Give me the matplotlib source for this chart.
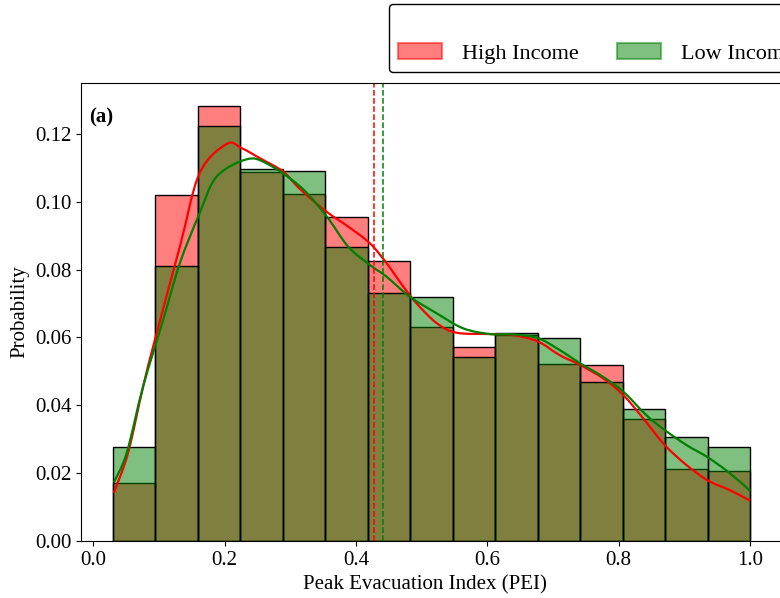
#!/usr/bin/env python3

import numpy as np
import matplotlib
matplotlib.use('Agg')
import matplotlib.pyplot as plt
from matplotlib.patches import Patch, PathPatch
from matplotlib.path import Path

# histogram bins (15 equal bins between 0.03 and 1.0)
bin_lo = 0.03
bin_hi = 1.0
n_bins = 15

high_prob = [0.0171, 0.1020, 0.1283, 0.1089, 0.1022, 0.0956, 0.0826, 0.0630,
             0.0573, 0.0608, 0.0522, 0.0518, 0.0360, 0.0211, 0.0206]
low_prob = [0.0277, 0.0810, 0.1222, 0.1096, 0.1092, 0.0866, 0.0730, 0.0718,
            0.0543, 0.0612, 0.0599, 0.0468, 0.0388, 0.0306, 0.0276]

# density curves
high_kde_x = [0.0315, 0.053, 0.076, 0.094, 0.132, 0.162, 0.203, 0.226,
              0.254, 0.289, 0.315, 0.355, 0.388, 0.421, 0.4466, 0.472,
              0.492, 0.523, 0.553, 0.604, 0.639, 0.677, 0.710, 0.741, 0.776,
              0.807, 0.837, 0.870, 0.903, 0.936, 0.969, 1.0]
high_kde_y = [0.0142, 0.0259, 0.0455, 0.0593, 0.0868, 0.1084, 0.1170,
              0.1158, 0.1128, 0.1089, 0.1037, 0.0971, 0.0927, 0.0878,
              0.0819, 0.0750, 0.0701, 0.0642, 0.0614, 0.0610, 0.0607, 0.0588,
              0.0548, 0.0519, 0.0480, 0.0430, 0.0362, 0.0283, 0.0224, 0.0178,
              0.0150, 0.0119]
low_kde_x = [0.0315, 0.051, 0.076, 0.1066, 0.132, 0.162, 0.188, 0.2335, 0.264,
             0.315, 0.355, 0.388, 0.421, 0.4466, 0.482, 0.523,
             0.563, 0.604, 0.639, 0.677, 0.710, 0.741, 0.776, 0.807, 0.842,
             0.870, 0.903, 0.936, 0.969, 1.0]
low_kde_y = [0.0173, 0.0259, 0.0455, 0.0652, 0.0819, 0.0966, 0.1074, 0.1125,
             0.1113, 0.1045, 0.0958, 0.0868, 0.0814, 0.0779,
             0.0720, 0.0671, 0.0627, 0.0610, 0.0609, 0.0598, 0.0563, 0.0524,
             0.0484, 0.0440, 0.0371, 0.0327, 0.0283, 0.0246, 0.0200, 0.0148]

high_mean = 0.4277
low_mean = 0.4405


def smooth_path(xs, ys):
    # catmull-rom through the read points, drawn as cubic bezier segments
    p = np.column_stack([xs, ys])
    verts = [p[0]]
    codes = [Path.MOVETO]
    for i in range(len(p) - 1):
        p0 = p[i - 1] if i > 0 else p[i]
        p1 = p[i]
        p2 = p[i + 1]
        p3 = p[i + 2] if i + 2 < len(p) else p[i + 1]
        c1 = p1 + (p2 - p0) / 6.0
        c2 = p2 - (p3 - p1) / 6.0
        verts += [c1, c2, p2]
        codes += [Path.CURVE4] * 3
    return Path(verts, codes)


plt.rcParams['font.family'] = ['Liberation Serif', 'DejaVu Serif']
plt.rcParams['font.size'] = 15

fig = plt.figure(figsize=(7.8, 5.98), dpi=100)
ax = fig.add_axes([81 / 780, 57 / 598, 701 / 780, 458 / 598])

edges = np.linspace(bin_lo, bin_hi, n_bins + 1)
width = edges[1] - edges[0]
ax.bar(edges[:-1], high_prob, width=width, align='edge',
       facecolor=(1, 0, 0, 0.5), edgecolor='black', linewidth=1.0)
ax.bar(edges[:-1], low_prob, width=width, align='edge',
       facecolor=(0, 0.5, 0, 0.5), edgecolor='black', linewidth=1.0)

ax.add_patch(PathPatch(smooth_path(high_kde_x, high_kde_y), facecolor='none',
                       edgecolor='red', lw=1.6))
ax.add_patch(PathPatch(smooth_path(low_kde_x, low_kde_y), facecolor='none',
                       edgecolor='green', lw=1.6))

ax.axvline(high_mean, color='red', linestyle='--', lw=1.1)
ax.axvline(low_mean, color='green', linestyle='--', lw=1.1)

ax.set_xlim(-0.0185, 1.0485)
ax.set_ylim(0, 0.135)
ax.set_xticks([0.0, 0.2, 0.4, 0.6, 0.8, 1.0])
yt = [0.0, 0.02, 0.04, 0.06, 0.08, 0.10, 0.12]
ax.set_yticks(yt)
ax.set_yticklabels(['%.2f' % v for v in yt])
ax.set_xlabel('Peak Evacuation Index (PEI)')
ax.xaxis.set_label_coords(0.49, -0.075)
ax.set_ylabel('Probability')
ax.text(0.012, 0.925, '(a)', transform=ax.transAxes, fontweight='bold',
        fontsize=15, va='center')

handles = [Patch(facecolor=(1, 0, 0, 0.5), edgecolor=(1, 0, 0, 0.5), lw=1.5),
           Patch(facecolor=(0, 0.5, 0, 0.5), edgecolor=(0, 0.5, 0, 0.5), lw=1.5)]
fig.legend(handles, ['High Income', 'Low Income'], ncol=2, title=' ',
           loc='upper left', bbox_to_anchor=(389 / 780, 1 - 4 / 598),
           borderaxespad=0, edgecolor='black', framealpha=1.0,
           fontsize=16, title_fontsize=16,
           columnspacing=1.7, handletextpad=0.9)

fig.savefig('out.png', dpi=100)
